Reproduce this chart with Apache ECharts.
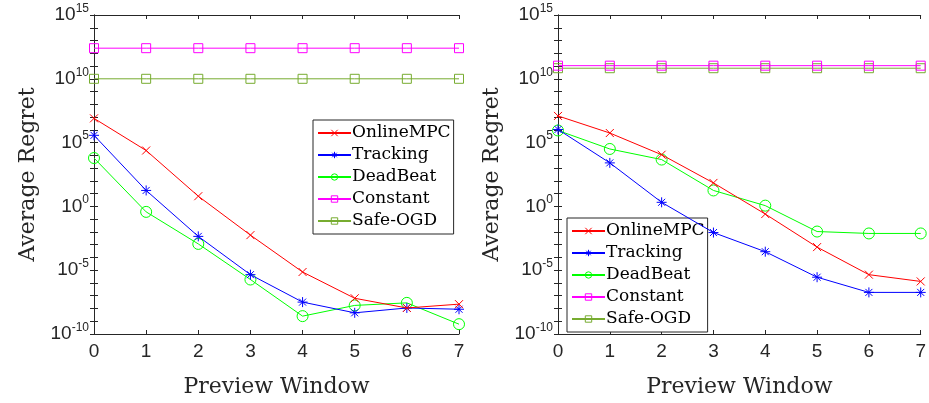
<!DOCTYPE html>
<html>
<head>
<meta charset="utf-8">
<script src="https://cdn.jsdelivr.net/npm/echarts@6/dist/echarts.min.js"></script>
<style>
  html, body { margin: 0; padding: 0; background: #fff; }
  #chart { width: 929px; height: 403px; }
</style>
</head>
<body>
<div id="chart"></div>
<script>
// preview window (x axis)
var previewWindow = [0, 1, 2, 3, 4, 5, 6, 7];
var seriesNames = ['OnlineMPC', 'Tracking', 'DeadBeat', 'Constant', 'Safe-OGD'];

// left panel, log10 of average regret
var leftOnlineMPC = [6.9, 4.38, 0.8, -2.25, -5.14, -7.2, -7.96, -7.66];
var leftTracking  = [5.57, 1.25, -2.35, -5.35, -7.5, -8.34, -7.96, -8.06];
var leftDeadBeat  = [3.79, -0.43, -2.94, -5.73, -8.6, -7.76, -7.56, -9.23];
var leftConstant  = [12.4, 12.4, 12.4, 12.4, 12.4, 12.4, 12.4, 12.4];
var leftSafeOGD   = [10.0, 10.0, 10.0, 10.0, 10.0, 10.0, 10.0, 10.0];

// right panel, log10 of average regret
var rightOnlineMPC = [7.09, 5.75, 4.05, 1.84, -0.6, -3.19, -5.35, -5.88];
var rightTracking  = [6.03, 3.41, 0.32, -2.05, -3.55, -5.55, -6.74, -6.74];
var rightDeadBeat  = [5.95, 4.5, 3.67, 1.25, 0.06, -1.97, -2.12, -2.12];
var rightConstant  = [11.03, 11.03, 11.03, 11.03, 11.03, 11.03, 11.03, 11.03];
var rightSafeOGD   = [10.83, 10.83, 10.83, 10.83, 10.83, 10.83, 10.83, 10.83];

var yMinExp = -10, yMaxExp = 15;

var chart = echarts.init(document.getElementById('chart'));

var axisColor = '#262626';
var serif = 'DejaVu Serif';
var sans = 'Liberation Sans';

var colors = ['#ff0000', '#0000ff', '#00ff00', '#ff00ff', '#77ac30'];
var symbols = [
  'path://M0,0L10,10M10,0L0,10',
  'path://M5,0L5,10M0,5L10,5M1.5,1.5L8.5,8.5M8.5,1.5L1.5,8.5',
  'circle',
  'rect',
  'rect'
];
var symbolSizes = [8, 10, 11, 9, 9];

function toPairs(logs) {
  return previewWindow.map(function (x, i) { return [x, Math.pow(10, logs[i])]; });
}

function supLabel(v) {
  var e = Math.round(Math.log10(v));
  if (e % 5 !== 0) return '';
  return '{b|10}{s|' + e + '}';
}

function xAxes(gi) {
  return [{
    type: 'value', gridIndex: gi, min: 0, max: 7, interval: 1,
    name: 'Preview Window', nameLocation: 'middle', nameGap: 42,
    nameMoveOverlap: false,
    nameTextStyle: { fontFamily: serif, fontSize: 22, color: axisColor },
    axisLine: { lineStyle: { color: axisColor, width: 1 } },
    axisTick: { inside: true, length: 4, lineStyle: { color: axisColor } },
    axisLabel: { fontFamily: sans, fontSize: 19, color: axisColor, margin: 8 },
    splitLine: { show: false }
  }, {
    type: 'value', gridIndex: gi, position: 'top', min: 0, max: 7, interval: 1,
    axisLine: { lineStyle: { color: axisColor, width: 1 } },
    axisTick: { inside: true, length: 4, lineStyle: { color: axisColor } },
    axisLabel: { show: false },
    splitLine: { show: false }
  }];
}

function yAxes(gi) {
  var common = {
    type: 'log', logBase: 10, gridIndex: gi,
    min: Math.pow(10, yMinExp), max: Math.pow(10, yMaxExp), interval: 1,
    axisLine: { show: true, lineStyle: { color: axisColor, width: 1 } },
    axisTick: { show: true, inside: true, length: 4, interval: 0, lineStyle: { color: axisColor } },
    splitLine: { show: false }
  };
  var left = Object.assign({}, common, {
    position: 'left',
    name: 'Average Regret', nameLocation: 'middle', nameGap: 55,
    nameMoveOverlap: false,
    nameTextStyle: { fontFamily: serif, fontSize: 22, color: axisColor },
    axisLabel: {
      formatter: supLabel, margin: 5, interval: 0,
      rich: {
        b: { fontFamily: sans, fontSize: 19, color: axisColor },
        s: { fontFamily: sans, fontSize: 12, color: axisColor, padding: [0, 0, 13, 0] }
      }
    }
  });
  var right = Object.assign({}, common, {
    position: 'right',
    axisLabel: { show: false }
  });
  return [left, right];
}

function makeSeries(gi, data) {
  return data.map(function (logs, k) {
    return {
      name: seriesNames[k], type: 'line',
      xAxisIndex: gi * 2, yAxisIndex: gi * 2,
      data: toPairs(logs),
      symbol: symbols[k], symbolSize: symbolSizes[k],
      showAllSymbol: true,
      lineStyle: { color: colors[k], width: 1 },
      itemStyle: { color: 'rgba(0,0,0,0)', borderColor: colors[k], borderWidth: 1 },
      emphasis: { disabled: true },
      z: 10 - k,
      animation: false
    };
  });
}

function makeLegend(left, top) {
  return {
    orient: 'vertical', left: left, top: top,
    data: seriesNames,
    itemWidth: 33, itemHeight: 8, itemGap: 2,
    padding: [3, 3, 3, 4],
    backgroundColor: '#fff', borderColor: axisColor, borderWidth: 1,
    itemStyle: { borderWidth: 1 },
    textStyle: { fontFamily: serif, fontSize: 17, lineHeight: 20, color: '#000', padding: [0, 0, 0, -4] },
    selectedMode: false
  };
}

var option = {
  animation: false,
  backgroundColor: '#fff',
  grid: [
    { left: 94, top: 15, width: 365, height: 328 },
    { left: 558, top: 15, width: 364, height: 328 }
  ],
  xAxis: xAxes(0).concat(xAxes(1)),
  yAxis: yAxes(0).concat(yAxes(1)),
  legend: [makeLegend(313, 120), makeLegend(567, 218)],
  series: makeSeries(0, [leftOnlineMPC, leftTracking, leftDeadBeat, leftConstant, leftSafeOGD])
    .concat(makeSeries(1, [rightOnlineMPC, rightTracking, rightDeadBeat, rightConstant, rightSafeOGD]))
};

chart.setOption(option);
</script>
</body>
</html>
